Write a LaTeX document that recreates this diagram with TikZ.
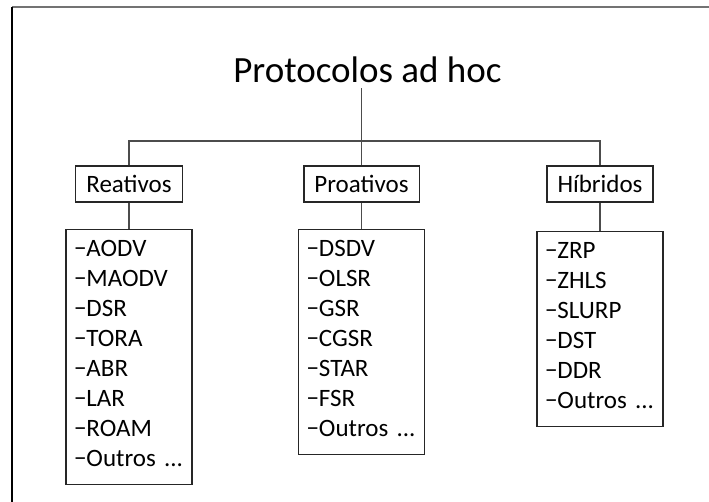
\documentclass[tikz,border=0pt]{standalone}
\usepackage{fontspec}
\setmainfont{Carlito}
\usepackage{tikz}
\usetikzlibrary{positioning}
\newcommand{\listend}{\rule[-7.5pt]{0pt}{7.5pt}}

\begin{document}
\begin{tikzpicture}[x=1pt, y=-1pt,
            node distance=26pt,
            headline/.style={font=\fontsize{37}{44}\selectfont, inner sep=5pt},
            catbox/.style={draw=black!85, line width=1.1pt, minimum height=36pt, inner xsep=10.5pt,
                        inner ysep=0pt, text height=18pt, text depth=0pt, font=\fontsize{25}{29}\selectfont},
            listbox/.style={draw=black!85, line width=1.1pt, text width=110pt, inner xsep=8pt,
                        inner ysep=11pt, align=left, font=\fontsize{25}{30}\selectfont},
            link/.style={draw=black!70, line width=1.1pt}]

            \useasboundingbox (0,0) rectangle (709,502);

            % frame, cut off at the right and at the bottom
            \draw[black!55, line width=1.2pt] (12,7) -- (709,7);
            \draw[black, line width=1.2pt] (12,7) -- (12,502);

            \node[headline, anchor=base] (title) at (367.5,83) {Protocolos ad hoc};

            \node[catbox] (reativos)  at (129,184)   {Reativos};
            \node[catbox] (proativos) at (361.5,184) {Proativos};
            \node[catbox] (hibridos)  at (600,184)   {Híbridos};

            \node[listbox, below=of reativos] (reatList)
                {−AODV\\ −MAODV\\ −DSR\\ −TORA\\ −ABR\\ −LAR\\ −ROAM\\ −Outros ...\listend};
            \node[listbox, below=of proativos] (proList)
                {−DSDV\\ −OLSR\\ −GSR\\ −CGSR\\ −STAR\\ −FSR\\ −Outros ...\listend};
            \node[listbox, below=28pt of hibridos] (hibList)
                {−ZRP\\ −ZHLS\\ −SLURP\\ −DST\\ −DDR\\ −Outros ...\listend};

            % tree lines
            \coordinate (bar) at (361.5,141);
            \draw[link] (title.south -| proativos.north) -- (proativos.north);
            \draw[link] (reativos.north) -- (reativos.north |- bar) -- (hibridos.north |- bar) -- (hibridos.north);

            \draw[link] (reativos.south)  -- (reatList.north);
            \draw[link] (proativos.south) -- (proList.north);
            \draw[link] (hibridos.south)  -- (hibList.north);
        \end{tikzpicture}
\end{document}
